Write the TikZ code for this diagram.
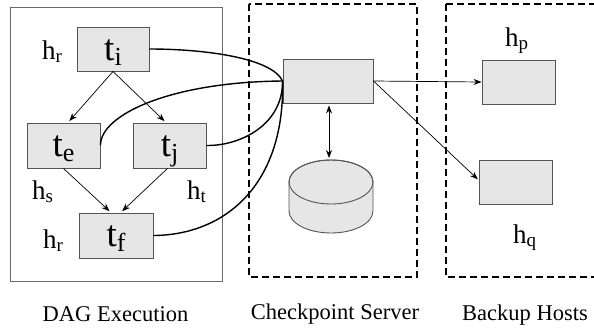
\documentclass[tikz,border=0pt]{standalone}
\usepackage{fontspec}
\setmainfont{Liberation Serif}
\newfontfamily\labelface{Liberation Serif}
\usetikzlibrary{arrows.meta}

\definecolor{boxfill}{HTML}{E6E6E6}
\definecolor{boxline}{HTML}{555555}
\definecolor{frameline}{HTML}{6A6A6A}

% lowered, smaller index letters
\newcommand\tsub[1]{\raisebox{-5pt}{\labelface\fontsize{26}{26}\selectfont #1}}
\newcommand\hsub[1]{\raisebox{-3.5pt}{\labelface\fontsize{19}{19}\selectfont #1}}

\begin{document}
\begin{tikzpicture}[x=1pt,y=-1pt,
  task/.style={draw=boxline, fill=boxfill, line width=0.9pt,
    minimum width=73pt, minimum height=45pt, inner sep=0pt,
    text height=22pt, text depth=0pt, font=\labelface\fontsize{37}{40}\selectfont},
  hlbl/.style={inner sep=0pt, anchor=base west, font=\labelface\fontsize{27}{30}\selectfont},
  caption/.style={inner sep=0pt, anchor=base, font=\labelface\fontsize{22.5}{26}\selectfont},
  arr/.style={-{Stealth[length=8pt,width=6pt]}, line width=0.7pt},
  dblarr/.style={{Stealth[length=8pt,width=6pt]}-{Stealth[length=8pt,width=6pt]}, line width=0.7pt},
  link/.style={line width=1.4pt, black},
  zone/.style={draw=black, line width=1.8pt, dash pattern=on 7pt off 4pt},
]
\useasboundingbox (0,0) rectangle (594,327);

% regions
\draw[frameline, line width=0.9pt] (10,7) rectangle (222,281);
\draw[zone] (249,4) rectangle (417,277);
\begin{scope}
  \clip (0,0) rectangle (594,327);
  \draw[zone] (446,4) rectangle (600,277);
\end{scope}

% DAG tasks
\node[task, minimum width=72pt, minimum height=44pt] (ti) at (113,49) {t\tsub{i}};
\node[task] (te) at (63.5,145.5) {t\tsub{e}};
\node[task] (tj) at (169.5,145.5) {t\tsub{j}};
\node[task, minimum width=74pt] (tf) at (116,235.5) {t\tsub{f}};

\node[hlbl] (hr1) at (42,59) {h\hsub{r}};
\node[hlbl] (hs) at (32,199) {h\hsub{s}};
\node[hlbl] (ht) at (187,199) {h\hsub{t}};
\node[hlbl] (hr2) at (43,248) {h\hsub{r}};

% checkpoint server and its store
\node[task, minimum width=90pt, minimum height=44pt] (srv) at (328,81) {};
\filldraw[fill=boxfill, draw=boxline, line width=0.9pt]
  (289,182) -- (289,211) arc[start angle=180, end angle=0, x radius=42, y radius=22]
  -- (373,182) arc[start angle=0, end angle=-180, x radius=42, y radius=22] -- cycle;
\draw[boxline, line width=0.9pt] (331,182) ellipse[x radius=42, y radius=22];
\coordinate (cyltop) at (331,160);

% backup hosts
\node[task, minimum width=73pt, minimum height=44pt] (hpbox) at (518.5,82) {};
\node[task, minimum width=73pt, minimum height=44pt] (hqbox) at (515.5,182) {};
\node[hlbl] (hp) at (505,46) {h\hsub{p}};
\node[hlbl] (hq) at (513,243) {h\hsub{q}};

% captions
\node[caption] (cap1) at (115.5,321) {DAG Execution};
\node[caption] (cap2) at (335,319) {Checkpoint Server};
\node[caption] (cap3) at (525,320) {Backup Hosts};

% DAG edges
\draw[arr, shorten >=2pt] (ti.south) -- ([xshift=4.5pt]te.north);
\draw[arr, shorten >=2pt] (ti.south) -- ([xshift=-3.5pt]tj.north);
\draw[arr, shorten >=2pt] (te.south) -- ([xshift=-5pt]tf.north);
\draw[arr, shorten >=2pt] ([xshift=-2pt]tj.south) -- ([xshift=4.7pt]tf.north);

% checkpoint traffic
\draw[link] (ti.east) .. controls (205,49) and (272,58) .. (srv.west);
\draw[link] (te.east) .. controls (100,115) and (170,82) .. (srv.west);
\draw[link] (tj.east) .. controls (240,146) and (283,125) .. (srv.west);
\draw[link] (tf.east) .. controls (225,235) and (285,185) .. (srv.west);

% server links
\draw[dblarr, shorten <=2pt, shorten >=2pt] ([xshift=1pt]srv.south) -- ([xshift=1pt]srv.south |- cyltop);
\draw[arr] (srv.east) -- (hpbox.west);
\draw[arr, shorten >=1pt] (srv.east) -- ([yshift=2pt]hqbox.west);
\end{tikzpicture}
\end{document}
